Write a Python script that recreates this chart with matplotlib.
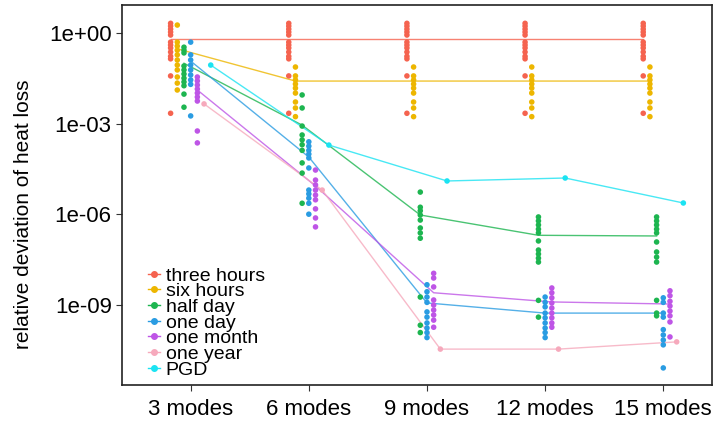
import matplotlib.pyplot as plt
import numpy as np
from matplotlib.lines import Line2D
from matplotlib.ticker import NullLocator

plt.rcParams['font.family'] = ['Liberation Sans', 'DejaVu Sans']

modes = ["3 modes", "6 modes", "9 modes", "12 modes", "15 modes"]
groups = ["three hours", "six hours", "half day", "one day", "one month", "one year", "PGD"]
colors = ["#F5634F", "#EDB600", "#1DB550", "#2A9CE2", "#BE55E6", "#F6A9BC", "#1BE3F2"]

# three hours: same spread at every mode count
red_pts = [2.1, 1.7, 1.35, 1.08, 0.86, 0.50, 0.40, 0.32, 0.235, 0.17, 0.14, 0.038, 0.0022]
three_hours_pts = [red_pts, red_pts, red_pts, red_pts, red_pts]
three_hours_line = [0.63, 0.63, 0.63, 0.63, 0.63]

yel_late = [0.075, 0.038, 0.028, 0.0205, 0.015, 0.0103, 0.0052, 0.0033, 0.0017]
six_hours_pts = [
    [1.84, 0.50, 0.37, 0.27, 0.19, 0.128, 0.087, 0.060, 0.035, 0.022, 0.013],
    yel_late, yel_late, yel_late, yel_late,
]
six_hours_line = [0.30, 0.0257, 0.0257, 0.0257, 0.0257]

half_day_pts = [
    [0.34, 0.27, 0.22, 0.081, 0.060, 0.044, 0.032, 0.024, 0.018, 0.0095, 0.0035],
    [8.9e-3, 3.3e-3, 8.3e-4, 4.2e-4, 2.9e-4, 2.0e-4, 1.3e-4, 5.0e-5, 2.3e-5, 2.3e-6],
    [5.4e-6, 1.7e-6, 1.3e-6, 9.4e-7, 6.4e-7, 3.5e-7, 2.4e-7, 1.6e-7, 1.8e-9, 2.1e-10, 1.2e-10],
    [8.1e-7, 6.0e-7, 4.4e-7, 3.2e-7, 2.4e-7, 1.3e-7, 6.5e-8, 4.8e-8, 3.5e-8, 2.6e-8, 1.4e-9, 3.9e-10],
    [8.1e-7, 6.0e-7, 4.4e-7, 3.2e-7, 2.4e-7, 1.2e-7, 5.6e-8, 3.8e-8, 2.6e-8, 1.4e-9, 5.3e-10, 4.3e-10],
]
half_day_line = [0.10, 8.9e-4, 9.4e-7, 2.0e-7, 1.9e-7]

one_day_pts = [
    [0.50, 0.19, 0.128, 0.087, 0.060, 0.041, 0.028, 0.020, 0.0018],
    [2.5e-4, 1.8e-4, 1.3e-4, 9.8e-5, 7.3e-5, 3.4e-5, 6.3e-6, 4.7e-6, 3.4e-6, 2.3e-6, 1.0e-6],
    [4.6e-9, 2.7e-9, 1.8e-9, 1.2e-9, 5.8e-10, 3.9e-10, 2.5e-10, 1.7e-10, 1.2e-10, 8.2e-11],
    [1.8e-9, 1.2e-9, 8.5e-10, 5.3e-10, 3.7e-10, 2.5e-10, 1.7e-10, 1.2e-10, 8.2e-11],
    [1.7e-9, 1.2e-9, 5.3e-10, 3.9e-10, 1.5e-10, 1.0e-10, 6.8e-11, 4.7e-11, 8.1e-12],
]
one_day_line = [0.118, 7.8e-5, 1.15e-9, 5.3e-10, 5.3e-10]

one_month_pts = [
    [0.035, 0.026, 0.019, 0.014, 0.0103, 0.0076, 0.0056, 5.7e-4, 2.3e-4],
    [2.9e-5, 1.35e-5, 9.3e-6, 6.3e-6, 4.3e-6, 3.0e-6, 1.5e-6, 7.5e-7, 3.8e-7],
    [1.1e-8, 7.7e-9, 3.9e-9, 1.44e-9, 9.8e-10, 6.7e-10, 4.6e-10, 3.1e-10, 1.8e-10],
    [3.6e-9, 2.5e-9, 1.7e-9, 1.15e-9, 7.8e-10, 5.3e-10, 3.7e-10, 2.5e-10, 1.8e-10],
    [2.9e-9, 2.0e-9, 1.3e-9, 9.1e-10, 6.2e-10, 4.3e-10, 2.7e-10, 8.6e-11],
]
one_month_line = [0.013, 8.6e-6, 2.5e-9, 1.24e-9, 1.06e-9]

one_year_pts = [[4.5e-3], [6.3e-6], [3.4e-11], [3.4e-11], [5.9e-11]]
one_year_line = [4.5e-3, 6.3e-6, 3.4e-11, 3.4e-11, 5.9e-11]

pgd_pts = [[0.087], [1.95e-4], [1.26e-5], [1.58e-5], [2.35e-6]]
pgd_line = [0.087, 1.95e-4, 1.26e-5, 1.58e-5, 2.35e-6]

all_pts = [three_hours_pts, six_hours_pts, half_day_pts, one_day_pts,
           one_month_pts, one_year_pts, pgd_pts]
all_lines = [three_hours_line, six_hours_line, half_day_line, one_day_line,
             one_month_line, one_year_line, pgd_line]

fig, ax = plt.subplots(figsize=(7.27, 4.21), dpi=100)
fig.subplots_adjust(left=0.168, right=0.979, bottom=0.0855, top=0.988)

x = np.arange(1, len(modes) + 1)
dodge = 0.0566
for i, (col, pts, line) in enumerate(zip(colors, all_pts, all_lines)):
    xs = x + (i - 3) * dodge
    ax.plot(xs, line, color=col, lw=1.0, alpha=0.8, zorder=2)
    for k, p in enumerate(pts):
        ax.scatter(np.full(len(p), xs[k]), p, s=16, color=col,
                   edgecolors='none', zorder=3)

ax.set_yscale('log')
ax.set_ylim(2.2e-12, 8.46)
ax.set_xlim(0.42, 5.41)
ax.set_yticks([1, 1e-3, 1e-6, 1e-9])
ax.set_yticklabels(["1e+00", "1e-03", "1e-06", "1e-09"])
ax.yaxis.set_minor_locator(NullLocator())
ax.set_xticks(x)
ax.set_xticklabels(modes)
ax.tick_params(labelsize=16, length=4, color='#333333', colors='black')
ax.tick_params(axis='x', pad=6)
ax.set_ylabel("relative deviation of heat loss", fontsize=15)
ax.yaxis.set_label_coords(-0.152, 0.45)
for s in ax.spines.values():
    s.set_color('#222222')
    s.set_linewidth(1.2)

handles = [Line2D([0], [0], color=c, marker='o', markersize=4, lw=1) for c in colors]
ax.legend(handles, groups, loc='lower left', bbox_to_anchor=(0.044, 0.017),
          frameon=False, fontsize=14, labelspacing=-0.1, handlelength=0.6,
          handletextpad=0.3, borderpad=0, borderaxespad=0)

fig.savefig("out.png", dpi=100)
